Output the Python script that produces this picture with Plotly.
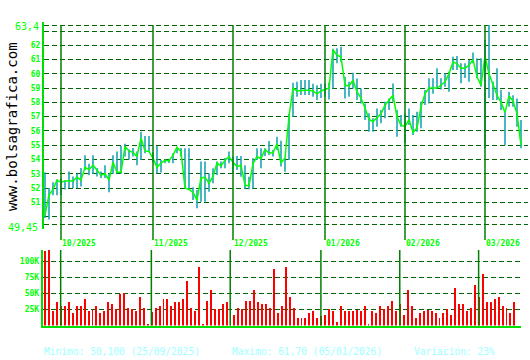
import plotly.graph_objects as go

# ---- data (trading-day index 0 = 25/09/2025) ----
close = [
    50.10, 51.50, 51.90, 52.55, 52.40, 52.50, 52.50, 52.50, 52.75, 52.55,
    53.45, 53.30, 53.60, 53.25, 52.90, 53.00, 52.55, 53.80, 53.10, 53.10,
    54.90, 54.60, 54.50, 54.20, 55.50, 54.60, 54.55, 54.10, 53.45, 53.75,
    53.95, 53.90, 54.30, 54.85, 54.55, 52.00, 51.90, 51.70, 51.15, 52.70,
    52.75, 52.35, 52.80, 53.75, 53.55, 53.95, 54.20, 53.80, 53.50, 53.60,
    52.20, 52.15, 53.70, 54.20, 54.05, 54.70, 54.45, 54.45, 55.10, 53.75,
    54.10, 57.00, 59.00, 58.80, 58.85, 58.85, 58.85, 58.80, 58.60, 58.80,
    58.90, 59.00, 61.70, 61.30, 61.20, 59.20, 59.15, 59.55, 58.75, 58.30,
    57.60, 56.80, 56.65, 56.90, 57.20, 57.80, 58.15, 58.50, 57.00, 56.40,
    56.30, 56.80, 55.90, 56.20, 57.70, 58.60, 59.00, 59.00, 59.00, 59.20,
    59.45, 60.00, 60.85, 60.70, 60.40, 60.40, 60.60, 61.00, 59.80, 59.20,
    61.20, 60.00, 59.20, 58.50, 58.00, 57.30, 58.45, 58.10, 57.20, 55.00,
]
high = [
    53.10, 52.00, 52.40, 52.60, 52.70, 52.55, 53.15, 52.80, 53.00, 53.40,
    54.30, 53.70, 54.30, 53.40, 53.15, 53.60, 53.00, 54.30, 54.55, 54.95,
    55.10, 54.70, 54.80, 54.55, 55.95, 55.65, 55.65, 54.50, 54.95, 53.96,
    54.00, 54.00, 54.43, 54.90, 54.80, 54.78, 54.78, 52.05, 51.86, 53.85,
    53.85, 53.03, 53.38, 53.85, 53.85, 54.10, 54.55, 54.20, 54.24, 54.24,
    53.60, 52.79, 54.08, 54.78, 54.78, 54.78, 55.30, 54.66, 55.60, 55.32,
    54.10, 57.20, 59.38, 59.45, 59.57, 59.57, 59.57, 59.30, 59.20, 59.30,
    59.30, 59.40, 61.75, 61.79, 61.90, 59.80, 59.45, 60.08, 59.68, 58.98,
    57.93, 57.23, 56.88, 57.58, 57.47, 58.05, 58.28, 59.33, 57.47, 57.12,
    57.23, 57.58, 57.12, 57.35, 58.05, 58.87, 59.69, 59.69, 60.40, 59.69,
    60.04, 60.15, 61.20, 61.25, 60.74, 60.74, 60.97, 61.50, 61.10, 61.10,
    62.37, 63.42, 59.45, 60.40, 58.87, 57.47, 58.75, 58.50, 58.28, 56.77,
]
low = [
    49.90, 49.80, 51.50, 51.50, 51.50, 51.90, 52.00, 52.00, 52.00, 52.10,
    53.25, 52.90, 53.00, 52.80, 52.70, 52.70, 51.70, 53.00, 53.00, 53.00,
    54.20, 54.00, 54.20, 53.60, 53.96, 54.43, 54.55, 53.80, 53.03, 53.08,
    53.73, 53.75, 53.73, 54.43, 54.20, 51.98, 51.86, 51.16, 50.58, 51.04,
    51.04, 51.74, 52.33, 52.91, 53.38, 53.38, 53.73, 53.03, 53.26, 52.79,
    51.91, 51.91, 51.97, 53.96, 53.38, 54.24, 54.31, 54.20, 54.66, 53.50,
    53.14, 53.96, 57.00, 58.40, 58.52, 58.52, 58.52, 58.40, 58.17, 58.30,
    58.40, 58.20, 58.98, 60.74, 60.85, 58.28, 58.40, 58.98, 58.17, 57.93,
    56.77, 55.95, 55.95, 56.30, 56.53, 56.88, 57.47, 58.05, 55.60, 56.30,
    55.13, 56.42, 55.71, 55.95, 56.18, 57.82, 57.93, 58.60, 58.98, 58.90,
    59.10, 58.75, 60.27, 60.27, 59.34, 59.70, 59.45, 60.74, 59.69, 59.10,
    54.78, 58.30, 58.17, 58.17, 57.47, 55.00, 57.70, 57.70, 56.30, 54.78,
]
volume_k = [
    116, 119, 23, 36, 30, 31, 36, 20, 30, 30,
    41, 22, 24, 31, 20, 23, 36, 33, 26, 50,
    51, 27, 26, 22, 44, 27, 2, 21, 28, 31,
    42, 42, 30, 36, 36, 41, 69, 27, 22, 91,
    2, 39, 55, 26, 26, 33, 36, 21, 17, 28,
    26, 39, 39, 55, 36, 33, 34, 27, 88, 20,
    30, 91, 45, 27, 12.5, 12.5, 12.5, 20, 22, 11,
    15, 16, 26, 23, 5, 30, 22, 23, 22, 25,
    23, 30, 2, 22, 20, 31, 26, 31, 39, 22,
    33, 16, 55, 30, 12.5, 20, 23, 25, 23, 20,
    12.5, 19, 26, 17, 58, 33, 33, 22, 27, 64,
    44, 81, 37.5, 36, 42, 45, 30, 28, 20, 37.5,
]
month_starts = [4, 27, 47, 70, 90, 110]
month_labels = ["10/2025", "11/2025", "12/2025", "01/2026", "02/2026", "03/2026"]
price_grid = [49.45, 50, 51, 52, 53, 54, 55, 56, 57, 58, 59, 60, 61, 62, 63, 63.4]
price_ticktext = ["", "", "51", "52", "53", "54", "55", "56", "57", "58", "59",
                  "60", "61", "62", "", ""]
vol_ticks = [25000, 50000, 75000, 100000]
vol_ticktext = ["25K", "50K", "75K", "100K"]
footer = ["Minimo: 50,100 (25/09/2025)", "Maximo: 61,70 (05/01/2026)", "Variación: 23%"]

idx = list(range(len(close)))

W, H = 530, 360
def px(x):
    return x / W
def py(y):
    return (H - y) / H

GREEN = "#00ff00"
AXIS = "#00e000"
GRID = "#006400"
MONTH = "#008000"
TEAL = "#1ba5b5"
MONO = "DejaVu Sans Mono"

hl_x, hl_y = [], []
for i, lo, hi in zip(idx, low, high):
    hl_x += [i, i, None]
    hl_y += [lo, hi, None]

fig = go.Figure()
fig.add_trace(go.Scatter(x=hl_x, y=hl_y, mode="lines",
                         line=dict(color=TEAL, width=1.6), xaxis="x", yaxis="y",
                         hoverinfo="skip", showlegend=False))
fig.add_trace(go.Scatter(x=idx, y=close, mode="lines",
                         line=dict(color=GREEN, width=1.5), xaxis="x", yaxis="y",
                         showlegend=False))
fig.add_trace(go.Bar(x=idx, y=[v * 1000 for v in volume_k], width=0.24,
                     marker=dict(color="#ff0000", line=dict(width=0)),
                     xaxis="x2", yaxis="y2", showlegend=False))

shapes = []
for m in month_starts:
    shapes.append(dict(type="line", xref="x", yref="paper", x0=m, x1=m,
                       y0=py(240), y1=py(25), line=dict(color=MONTH, width=1.5),
                       layer="above"))
    shapes.append(dict(type="line", xref="x2", yref="y2 domain", x0=m, x1=m,
                       y0=0, y1=1, line=dict(color=MONTH, width=1.5), layer="above"))

annotations = []
for m, lab in zip(month_starts, month_labels):
    annotations.append(dict(x=m, y=py(243.7), xref="x", yref="paper", text=lab,
                            showarrow=False, xanchor="left", yanchor="middle",
                            xshift=-1,
                            font=dict(family=MONO, size=8, color=GREEN, weight="bold")))
annotations.append(dict(x=px(41), y=py(27), xref="paper", yref="paper", text="63,4",
                        showarrow=False, xanchor="right", yanchor="middle",
                        font=dict(family=MONO, size=10, color=GREEN)))
annotations.append(dict(x=px(40), y=py(227), xref="paper", yref="paper", text="49,45",
                        showarrow=False, xanchor="right", yanchor="middle",
                        font=dict(family=MONO, size=10, color=GREEN)))
annotations.append(dict(x=px(12), y=py(127), xref="paper", yref="paper",
                        text="www.bolsagrafica.com", textangle=-90, showarrow=False,
                        xanchor="center", yanchor="middle",
                        font=dict(family=MONO, size=14, color="#000000")))
for xpos, t in zip([42, 229.7, 412], footer):
    annotations.append(dict(x=px(xpos), y=py(351.7), xref="paper", yref="paper", text=t,
                            showarrow=False, xanchor="left", yanchor="middle",
                            font=dict(family=MONO, size=9.6, color="#a0ffff")))

fig.update_layout(
    width=W, height=H, margin=dict(l=0, r=0, t=0, b=0),
    paper_bgcolor="#ffffff", plot_bgcolor="#ffffff",
    showlegend=False, bargap=0,
    xaxis=dict(domain=[px(44), px(528)], range=[-0.25, 120.75], showgrid=False,
               zeroline=False, showline=False, showticklabels=False, ticks="",
               anchor="y"),
    yaxis=dict(domain=[py(229.4), py(21.75)], range=[49.1, 63.65], anchor="x",
               tickvals=price_grid, ticktext=price_ticktext, showgrid=True,
               gridcolor=GRID, griddash="5px,3px", gridwidth=1.2, zeroline=False,
               showline=True, linecolor=AXIS, linewidth=2, ticks="",
               tickfont=dict(family=MONO, size=8, color=GREEN, weight="bold")),
    xaxis2=dict(domain=[px(42.7), px(521)], range=[-0.558, 120.75], showgrid=False,
                zeroline=False, showline=True, linecolor=AXIS, linewidth=2,
                showticklabels=False, ticks="", anchor="y2"),
    yaxis2=dict(domain=[py(325.5), py(250)], range=[0, 118000], anchor="x2",
                tickvals=vol_ticks, ticktext=vol_ticktext, showgrid=True,
                gridcolor=GRID, griddash="5px,3px", gridwidth=1.2, zeroline=False,
                showline=True, linecolor=AXIS, linewidth=2, ticks="",
                tickfont=dict(family=MONO, size=8, color=GREEN, weight="bold")),
    shapes=shapes, annotations=annotations,
)

fig.write_html("out.html")
